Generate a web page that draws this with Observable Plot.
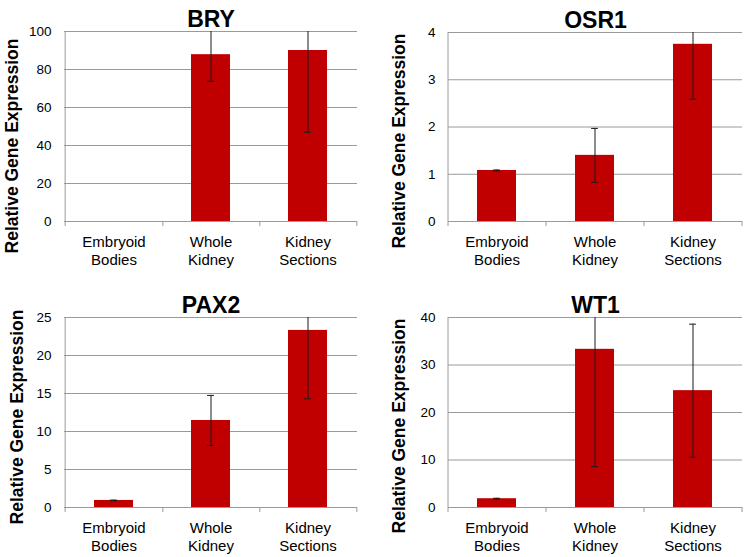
<!DOCTYPE html>
<html><head><meta charset="utf-8">
<script src="https://cdn.jsdelivr.net/npm/d3@7"></script>
<script src="https://cdn.jsdelivr.net/npm/@observablehq/plot@0.6"></script>
<style>
html,body{margin:0;padding:0;background:#fff;}
#root{position:relative;width:750px;height:557px;overflow:hidden;font-family:"Liberation Sans",Arial,sans-serif;}
#root > div{position:absolute;}
#root > div.ylab{font-weight:bold;font-size:17.5px;white-space:nowrap;line-height:1;transform:translate(-50%,-50%) rotate(-90deg);color:#000;}
</style></head><body><div id="root"></div>
<script>
// ---- data ----
const categories = ["Embryoid Bodies", "Whole Kidney", "Kidney Sections"];
const genes = ["BRY", "OSR1", "PAX2", "WT1"];
const yLabel = "Relative Gene Expression";

const bryValues  = [0, 87.8, 90.0];
const bryErrors  = [0, 14.0, 43.0];
const osr1Values = [1.08, 1.40, 3.75];
const osr1Errors = [0.01, 0.57, 1.16];
const pax2Values = [0.93, 11.45, 23.3];
const pax2Errors = [0.04, 3.3, 9.0];
const wt1Values  = [1.85, 33.3, 24.6];
const wt1Errors  = [0.1, 24.7, 14.0];

const bryTicks  = [0, 20, 40, 60, 80, 100];
const osr1Ticks = [0, 1, 2, 3, 4];
const pax2Ticks = [0, 5, 10, 15, 20, 25];
const wt1Ticks  = [0, 10, 20, 30, 40];

const seriesValues = [bryValues, osr1Values, pax2Values, wt1Values];
const seriesErrors = [bryErrors, osr1Errors, pax2Errors, wt1Errors];
const seriesTicks  = [bryTicks, osr1Ticks, pax2Ticks, wt1Ticks];

// ---- layout (pixels) ----
const layout = [
  {left: 0,   top: 0,   w: 375, h: 278, mt: 31, mb: 57, ml: 64, mr: 18, labelX: 12.5, labelDy: 20},
  {left: 375, top: 0,   w: 375, h: 278, mt: 32, mb: 57, ml: 73, mr: 8,  labelX: 24.5, labelDy: 14},
  {left: 0,   top: 278, w: 375, h: 279, mt: 39, mb: 50, ml: 64, mr: 18, labelX: 17.5, labelDy: 5},
  {left: 375, top: 278, w: 375, h: 279, mt: 39, mb: 50, ml: 73, mr: 8,  labelX: 24.5, labelDy: 14}
];

const barColor = "#C00000";
const gridColor = "#9a9a9a";
const errColor = "#1a1a1a";
const font = "'Liberation Sans', Arial, sans-serif";

const root = document.getElementById("root");

genes.forEach((gene, gi) => {
  const L = layout[gi];
  const ticks = seriesTicks[gi];
  const rows = categories.map((c, i) => ({cat: c, v: seriesValues[gi][i], e: seriesErrors[gi][i]}));
  const withErr = rows.filter(d => d.e > 0);
  const caps = withErr.flatMap(d => [{cat: d.cat, y: d.v - d.e}, {cat: d.cat, y: d.v + d.e}]);
  const step = (L.w - L.ml - L.mr) / categories.length;
  const bw = step * 0.4;
  const capInset = bw / 2 - 3.5;
  const plotH = L.h - L.mt - L.mb;

  const chart = Plot.plot({
    width: L.w, height: L.h,
    marginTop: L.mt, marginBottom: L.mb, marginLeft: L.ml, marginRight: L.mr,
    style: {fontFamily: font, background: "white", color: "#000", overflow: "visible"},
    x: {domain: categories, paddingInner: 0.6, paddingOuter: 0.3, axis: null},
    y: {domain: [0, ticks[ticks.length - 1]], axis: null},
    marks: [
      Plot.gridY({ticks, stroke: gridColor, strokeOpacity: 1, strokeWidth: 1}),
      Plot.barY(rows.filter(d => d.v > 0), {x: "cat", y: "v", fill: barColor}),
      Plot.ruleX(withErr, {x: "cat", y1: d => d.v - d.e, y2: d => d.v + d.e, stroke: errColor, strokeWidth: 1, clip: true}),
      Plot.tickY(caps, {x: "cat", y: "y", stroke: errColor, strokeWidth: 1, insetLeft: capInset, insetRight: capInset, clip: true}),
      Plot.ruleX(categories.slice(0, 1), {x: d => d, dx: -step / 2, stroke: gridColor, insetBottom: -5}),
      Plot.ruleX(categories, {x: d => d, dx: step / 2, stroke: gridColor, insetTop: plotH, insetBottom: -5}),
      Plot.axisY({ticks, tickSize: 0, tickPadding: 13, fontSize: 13.5, label: null, tickFormat: d => String(d)}),
      Plot.axisX({tickSize: 0, tickPadding: 13, fontSize: 15, lineHeight: 1.17, label: null,
                  tickFormat: d => d.replace(" ", "\n")}),
      Plot.text([gene], {frameAnchor: "top", lineAnchor: "bottom", dy: -5, fontSize: 23, fontWeight: "bold"})
    ]
  });
  const holder = document.createElement("div");
  holder.style.left = L.left + "px";
  holder.style.top = L.top + "px";
  holder.appendChild(chart);
  root.appendChild(holder);

  const lab = document.createElement("div");
  lab.className = "ylab";
  lab.textContent = yLabel;
  lab.style.left = (L.left + L.labelX) + "px";
  lab.style.top = (L.top + L.mt + plotH / 2 + L.labelDy) + "px";
  root.appendChild(lab);
});
</script>
</body></html>
